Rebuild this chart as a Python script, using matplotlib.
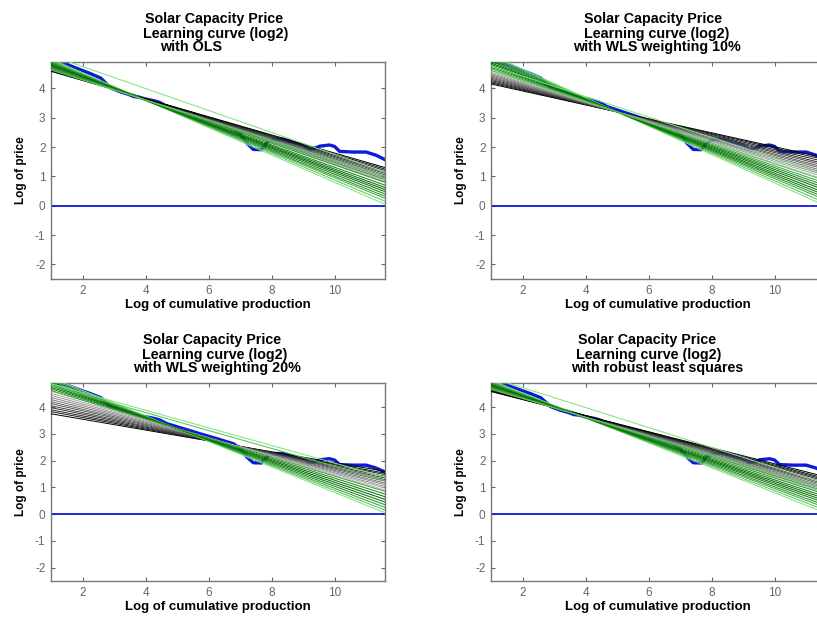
# -*- coding: utf-8 -*-

import numpy as np
import matplotlib
matplotlib.use('Agg')
import matplotlib.pyplot as plt

plt.rcParams['font.family'] = ['Liberation Sans', 'DejaVu Sans']
plt.rcParams['axes.unicode_minus'] = False

# observed learning curve (log2 of cumulative production vs log2 of price)
log_prod = [1.0, 1.5, 1.95, 2.26, 2.58, 2.89, 3.21, 3.45, 3.63, 3.8, 3.95,
            4.26, 4.45, 4.68, 5.21, 5.74, 6.26, 6.79, 7.0, 7.21, 7.42, 7.68,
            7.84, 8.05, 8.37, 8.68, 9.0, 9.21, 9.35, 9.53, 9.84, 10.0, 10.16,
            10.58, 11.0, 11.32, 11.6]
log_price = [4.95, 4.82, 4.63, 4.5, 4.35, 4.02, 3.88, 3.8, 3.72, 3.7, 3.65,
             3.58, 3.52, 3.38, 3.19, 3.0, 2.82, 2.63, 2.45, 2.14, 1.92, 1.91,
             2.14, 2.26, 2.27, 2.16, 2.07, 1.92, 1.95, 2.03, 2.07, 2.02, 1.85,
             1.83, 1.83, 1.72, 1.57]

# fitted lines: value at left end (x=1) and right end (x=11.6)
x_ends = [1.0, 11.6]

ols_black_left = [4.78, 4.76, 4.74, 4.72, 4.70, 4.68, 4.66, 4.64, 4.62, 4.60, 4.58]
ols_black_right = [0.80, 0.85, 0.90, 0.95, 1.00, 1.05, 1.10, 1.15, 1.20, 1.25, 1.30]
ols_green_left = [5.00, 4.96, 4.92, 4.89, 4.86, 4.83, 4.80, 4.78, 4.74, 4.71, 4.67, 4.63, 5.12]
ols_green_right = [0.05, 0.15, 0.25, 0.32, 0.40, 0.48, 0.55, 0.62, 0.70, 0.80, 0.90, 1.00, 1.15]

w10_black_left = [4.15, 4.19, 4.23, 4.27, 4.31, 4.35, 4.39, 4.43, 4.47, 4.51, 4.55, 4.60]
w10_black_right = [1.63, 1.57, 1.50, 1.43, 1.37, 1.30, 1.24, 1.17, 1.11, 1.04, 0.97, 0.89]
w10_green_left = [5.14, 5.08, 5.02, 4.97, 4.92, 4.87, 4.82, 4.77, 4.72, 4.67, 4.62, 4.77]
w10_green_right = [0.00, 0.10, 0.20, 0.28, 0.36, 0.44, 0.53, 0.61, 0.69, 0.77, 0.86, 1.07]

w20_black_left = [3.75, 3.83, 3.90, 3.98, 4.05, 4.13, 4.20, 4.28, 4.36, 4.44, 4.52, 4.60]
w20_black_right = [1.60, 1.53, 1.48, 1.41, 1.35, 1.29, 1.23, 1.16, 1.10, 1.03, 0.97, 0.90]
w20_green_left = [5.10, 5.04, 4.98, 4.92, 4.86, 4.80, 4.74, 4.68, 4.62, 4.80, 4.87]
w20_green_right = [0.05, 0.15, 0.25, 0.35, 0.45, 0.55, 0.65, 0.75, 0.85, 1.25, 1.38]

rob_black_left = [4.80, 4.78, 4.76, 4.74, 4.72, 4.70, 4.68, 4.66, 4.64, 4.62, 4.60, 4.58]
rob_black_right = [0.80, 0.86, 0.91, 0.97, 1.02, 1.08, 1.13, 1.18, 1.24, 1.29, 1.34, 1.40]
rob_green_left = [5.00, 4.96, 4.92, 4.89, 4.86, 4.83, 4.80, 4.77, 4.74, 4.71, 4.67, 5.10]
rob_green_right = [0.05, 0.15, 0.25, 0.33, 0.42, 0.50, 0.58, 0.66, 0.75, 0.85, 0.95, 1.15]

title_top = ['Solar Capacity Price', 'Learning curve (log2)']
subtitles = ['with OLS', 'with WLS weighting 10%',
             'with WLS weighting 20%', 'with robust least squares']

BLUE = (0.05, 0.1, 0.85)
GREY = '#666666'


def draw_panel(ax, black_l, black_r, green_l, green_r, lines, xpos):
    ax.plot(log_prod, log_price, color=BLUE, lw=2.4, zorder=2)
    ax.axhline(0, color=BLUE, lw=1.3, zorder=2)

    # black fan: darkest where the line starts lowest
    lo, hi = min(black_l), max(black_l)
    for l, r in zip(black_l, black_r):
        g = 0.72 * (l - lo) / (hi - lo)
        ax.plot(x_ends, [l, r], color=(g, g, g), lw=0.7, zorder=3)

    # green fan: dark in the middle, light at the edges
    n = len(green_l)
    for i, (l, r) in enumerate(zip(green_l, green_r)):
        t = abs(2 * i / (n - 1) - 1) ** 1.5
        c = (0.5 * t, 0.42 + 0.48 * t, 0.5 * t)
        ax.plot(x_ends, [l, r], color=c, lw=0.75, zorder=3)

    ax.set_xlim(1, 11.6)
    ax.set_ylim(-2.5, 4.9)
    ax.set_xticks([2, 4, 6, 8, 10])
    ax.set_yticks([-2, -1, 0, 1, 2, 3, 4])
    ax.tick_params(direction='in', top=True, right=True, length=3,
                   width=0.8, color=GREY, labelcolor=GREY, labelsize=8.5,
                   pad=4)
    for s in ax.spines.values():
        s.set_color('#777777')
        s.set_linewidth(1.0)
    ax.set_xlabel('Log of cumulative production', fontsize=9.5,
                  fontweight='bold', labelpad=2)
    ax.set_ylabel('Log of price', fontsize=8.5, fontweight='bold',
                  labelpad=6)

    # three centred title lines, as in the original
    for txt, fx, dy in zip(lines, xpos, [31, 20.5, 10.5]):
        ax.annotate(txt, xy=(fx, 1), xycoords='axes fraction',
                    xytext=(0, dy), textcoords='offset points',
                    ha='center', va='center', fontsize=10.3,
                    fontweight='bold')


fig = plt.figure(figsize=(8.17, 6.17), dpi=100)
W = 334 / 817
ax1 = fig.add_axes([51 / 817, 1 - 279 / 617, W, 217 / 617])
ax2 = fig.add_axes([491 / 817, 1 - 279 / 617, W, 217 / 617])
ax3 = fig.add_axes([51 / 817, 1 - 581 / 617, W, 198 / 617])
ax4 = fig.add_axes([491 / 817, 1 - 581 / 617, W, 198 / 617])

draw_panel(ax1, ols_black_left, ols_black_right, ols_green_left,
           ols_green_right, title_top + [subtitles[0]], [0.488, 0.494, 0.419])
draw_panel(ax2, w10_black_left, w10_black_right, w10_green_left,
           w10_green_right, title_top + [subtitles[1]], [0.485, 0.497, 0.497])
draw_panel(ax3, w20_black_left, w20_black_right, w20_green_left,
           w20_green_right, title_top + [subtitles[2]], [0.482, 0.491, 0.497])
draw_panel(ax4, rob_black_left, rob_black_right, rob_green_left,
           rob_green_right, title_top + [subtitles[3]], [0.467, 0.473, 0.497])

fig.savefig('out.png', dpi=100)
